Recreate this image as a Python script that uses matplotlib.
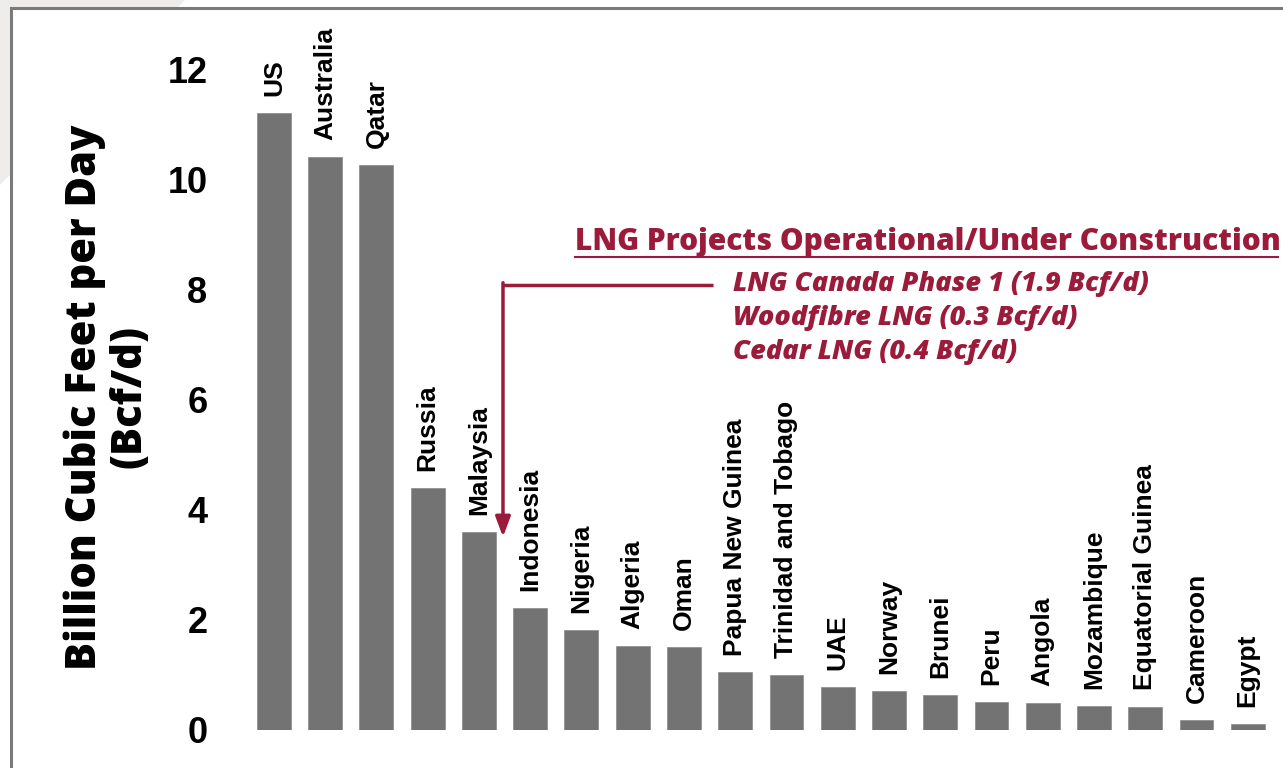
import matplotlib.pyplot as plt
import numpy as np
from matplotlib.patches import Polygon

countries = ["US", "Australia", "Qatar", "Russia", "Malaysia", "Indonesia",
             "Nigeria", "Algeria", "Oman", "Papua New Guinea",
             "Trinidad and Tobago", "UAE", "Norway", "Brunei", "Peru",
             "Angola", "Mozambique", "Equatorial Guinea", "Cameroon", "Egypt"]
capacity = [11.22, 10.42, 10.27, 4.40, 3.60, 2.22, 1.82, 1.53, 1.51, 1.05,
            1.00, 0.78, 0.71, 0.64, 0.51, 0.49, 0.44, 0.42, 0.18, 0.11]
yticks = [0, 2, 4, 6, 8, 10, 12]

note_title = "LNG Projects Operational/Under Construction"
note_lines = ["LNG Canada Phase 1 (1.9 Bcf/d)",
              "Woodfibre LNG (0.3 Bcf/d)",
              "Cedar LNG (0.4 Bcf/d)"]

RED = "#9b1b3b"
BAR = "#737373"

fig = plt.figure(figsize=(12.83, 7.68), dpi=100)

# slide background: grey corner + framed white panel
fig.patches.append(Polygon([[0, 1], [185 / 1283, 1], [0, 1 - 185 / 768]],
                           closed=True, transform=fig.transFigure,
                           facecolor="#eeedeb", edgecolor="none", zorder=-3))
fig.patches.append(plt.Rectangle((11 / 1283, -0.1), 1.2, 1 - 8 / 768 + 0.1,
                                 transform=fig.transFigure, facecolor="white",
                                 edgecolor="#7a7a7a", linewidth=2.2, zorder=-2))

ax = fig.add_axes([0.1855, 0.0495, 0.803, 0.881])
ax.set_facecolor("none")
x = np.arange(len(countries))
bars = ax.bar(x, capacity, width=0.66, color=BAR, edgecolor="#8a8a8a",
              linewidth=0.5)

for xi, v, name in zip(x, capacity, countries):
    ax.annotate(name, (xi, v), xytext=(0, 12), textcoords="offset points",
                rotation=90, ha="center", va="bottom", fontsize=19,
                fontweight="bold", family="Liberation Sans",
                annotation_clip=False)

ax.set_xlim(-0.7, 19.4)
ax.set_ylim(0, 12.3)
ax.set_xticks([])
ax.set_yticks(yticks)
ax.set_yticklabels([str(t) for t in yticks], fontsize=26, fontweight="bold",
                   family="Liberation Sans")
ax.tick_params(axis="y", length=0, pad=22)
for s in ax.spines.values():
    s.set_visible(False)

fig.text(107 / 1283, 1 - 397 / 768, "Billion Cubic Feet per Day\n(Bcf/d)",
         rotation=90, ha="center", va="center", fontsize=30,
         fontweight=800, family="Open Sans", linespacing=1.1)

# annotation: elbow arrow to Malaysia
ax.plot([8.56, 4.47], [8.09, 8.09], color=RED, lw=2.5, solid_capstyle="butt",
        clip_on=False)
ax.annotate("", xy=(4.47, 3.51), xytext=(4.47, 8.13),
            arrowprops=dict(arrowstyle="-|>,head_length=1.2,head_width=0.45",
                            color=RED, lw=2.5, shrinkA=0, shrinkB=0),
            annotation_clip=False)

ax.text(5.87, 8.88, note_title, ha="left", va="center", fontsize=21.5,
        fontweight=800, color=RED, family="Open Sans", clip_on=False)
ax.plot([5.87, 19.6], [8.60, 8.60], color=RED, lw=1.5, clip_on=False)
for i, line in enumerate(note_lines):
    ax.text(8.95, 8.11 - i * 0.62, line, ha="left", va="center", fontsize=19.5,
            fontweight=800, style="italic", color=RED, family="Open Sans",
            clip_on=False)

fig.savefig("out.png", dpi=100)
